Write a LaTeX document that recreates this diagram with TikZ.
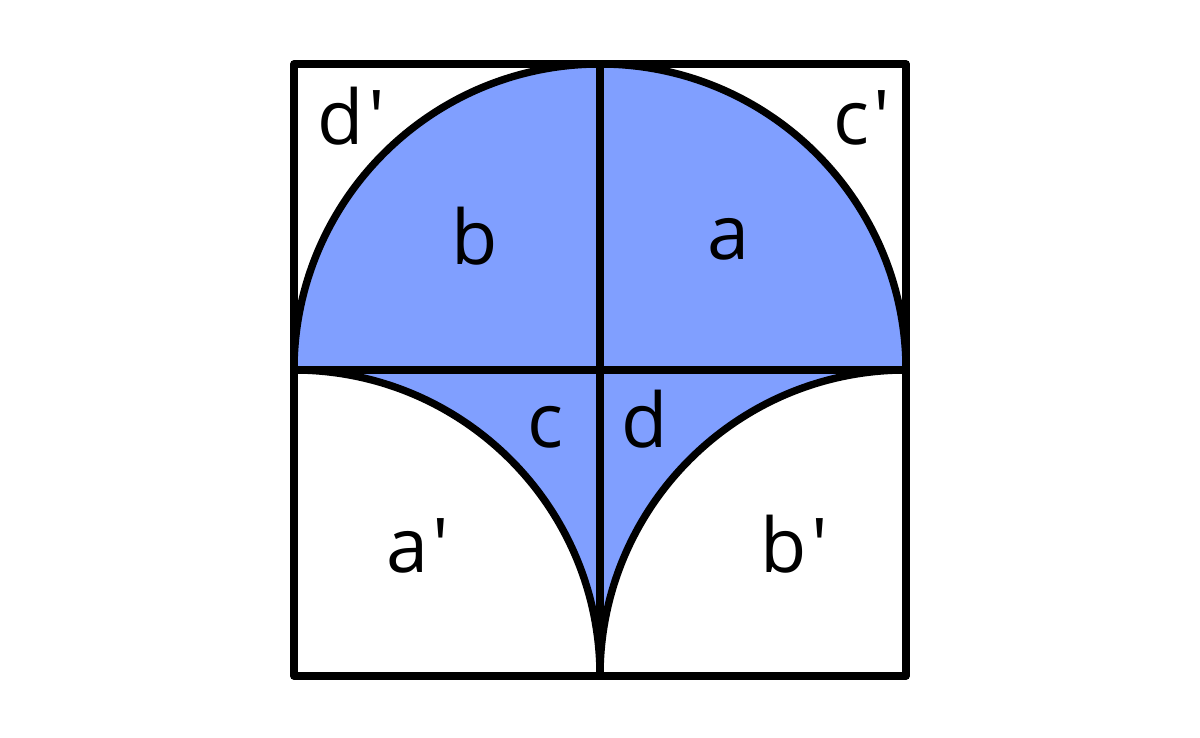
\documentclass[tikz,border=0pt]{standalone}
\usepackage{fontspec}
\setmainfont{Open Sans}[Ligatures=TeXOff]
\definecolor{fillblue}{RGB}{128,159,255}
\newcommand{\prm}{\kern0.06em'}
\begin{document}
\begin{tikzpicture}[
  outline/.style={line width=4.2pt, line join=round, line cap=round},
  lbl/.style={font=\fontsize{43}{50}\selectfont, inner sep=0pt, anchor=base}
]
\useasboundingbox (0,0) rectangle (24,14.74);
% filled region
\fill[fillblue] (5.88,7.34) arc[start angle=180, end angle=0, radius=6.12]
  arc[start angle=90, end angle=180, radius=6.12]
  arc[start angle=0, end angle=90, radius=6.12] -- cycle;
% coordinates
\coordinate (bl) at (5.88,1.22);
\coordinate (br) at (18.12,1.22);
\coordinate (tl) at (5.88,13.46);
\coordinate (tr) at (18.12,13.46);
\coordinate (ml) at (5.88,7.34);
\coordinate (mr) at (18.12,7.34);
\coordinate (mt) at (12,13.46);
\coordinate (mb) at (12,1.22);
% outlines
\draw[outline] (bl) rectangle (tr);
\draw[outline] (ml) -- (mr);
\draw[outline] (mt) -- (mb);
\draw[outline] (ml) arc[start angle=180, end angle=0, radius=6.12];
\draw[outline] (ml) arc[start angle=90, end angle=0, radius=6.12];
\draw[outline] (mr) arc[start angle=90, end angle=180, radius=6.12];
% labels
\node[lbl] (ldp) at (7.02,11.85) {d\prm};
\node[lbl] (lcp) at (17.24,11.85) {c\prm};
\node[lbl] (lb) at (9.50,9.45) {b};
\node[lbl] (la) at (14.56,9.55) {a};
\node[lbl] (lc) at (10.90,5.80) {c};
\node[lbl] (ld) at (12.90,5.80) {d};
\node[lbl] (lap) at (8.36,3.30) {a\prm};
\node[lbl] (lbp) at (15.88,3.30) {b\prm};
\end{tikzpicture}
\end{document}
